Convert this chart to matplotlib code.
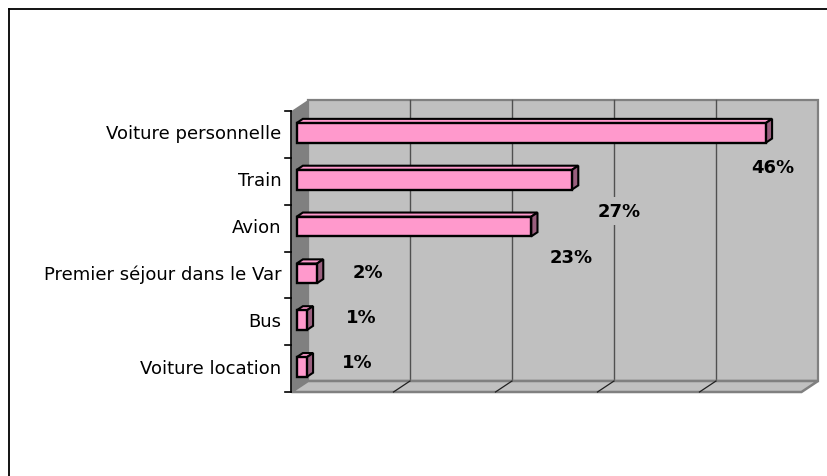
import matplotlib
matplotlib.use("Agg")
import matplotlib.pyplot as plt
from matplotlib.patches import Polygon, Rectangle
from matplotlib.lines import Line2D

# ---- data ----
categories = ["Voiture personnelle", "Train", "Avion",
              "Premier séjour dans le Var", "Bus", "Voiture location"]
values = [46, 27, 23, 2, 1, 1]
value_labels = [f"{v}%" for v in values]
grid_values = [10, 20, 30, 40]
x_max = 50

# ---- layout (label offsets, data units) ----
label_dx = [-0.4, 3.5, 2.8, 3.9, 4.2, 3.8]
label_dy = [0.93, 0.87, 0.85, 0.18, 0.14, 0.10]

W, H = 828, 477
fig = plt.figure(figsize=(W / 100, H / 100), dpi=100)
fig.patch.set_facecolor("white")

ax = fig.add_axes([308 / W, (H - 382) / H, 510 / W, 281 / H])
ax.set_xlim(0, x_max)
ax.set_ylim(len(categories), 0)
ax.set_axis_off()

n = len(categories)
DX = -1.62   # depth offset (x, data units) from back to front
DY = 0.235   # depth offset (y, category units) from back to front
WALL = "#C0C0C0"
DARK = "#808080"
GRID = "#505050"

# back wall
ax.add_patch(Rectangle((0, 0), x_max, n, facecolor=WALL, edgecolor=DARK,
                       lw=1.6, zorder=1, clip_on=False))
for g in grid_values:
    ax.add_line(Line2D([g, g], [0, n], color=GRID, lw=1.0, zorder=2, clip_on=False))

# floor
ax.add_patch(Polygon([(0, n), (x_max, n), (x_max + DX, n + DY), (DX, n + DY)],
                     closed=True, facecolor=WALL, edgecolor=DARK, lw=1.8,
                     zorder=2, clip_on=False))
for g in grid_values:
    ax.add_line(Line2D([g, g + DX], [n, n + DY], color="#202020", lw=0.9,
                       zorder=3, clip_on=False))

# left wall
ax.add_patch(Polygon([(0, 0), (0, n), (DX, n + DY), (DX, DY)], closed=True,
                     facecolor=DARK, edgecolor="none", zorder=3, clip_on=False))
ax.add_line(Line2D([DX, DX], [DY, n + DY], color="black", lw=1.2, zorder=4,
                   clip_on=False))
for k in range(n + 1):
    ax.add_line(Line2D([DX - 0.6, DX], [k + DY, k + DY], color="black", lw=1.2,
                       zorder=4, clip_on=False))

# bars
d0, d1 = 0.31, 0.69
hh = 0.21
yshift = 0.04
FRONT = "#FF99CC"
TOP = "#FF99CC"
SIDE = "#9A5F7E"
ys = [i + 0.5 + yshift + d1 * DY for i in range(n)]
ax.barh(ys, values, height=2 * hh, left=d1 * DX, color=FRONT, edgecolor="black",
        linewidth=1.7, zorder=6, clip_on=False)
for i, v in enumerate(values):
    yc = i + 0.5 + yshift
    x0f, x1f = d1 * DX, v + d1 * DX
    x0b, x1b = d0 * DX, v + d0 * DX
    ytf, ybf = yc - hh + d1 * DY, yc + hh + d1 * DY
    ytb, ybb = yc - hh + d0 * DY, yc + hh + d0 * DY
    ax.add_patch(Polygon([(x0f, ytf), (x1f, ytf), (x1b, ytb), (x0b, ytb)],
                         closed=True, facecolor=TOP, edgecolor="black", lw=1.5,
                         zorder=5, clip_on=False))
    ax.add_patch(Polygon([(x1f, ytf), (x1b, ytb), (x1b, ybb), (x1f, ybf)],
                         closed=True, facecolor=SIDE, edgecolor="black", lw=1.5,
                         zorder=5, clip_on=False))

# category labels
for i, c in enumerate(categories):
    ax.text(DX - 1.0, i + 0.5 + DY - 0.02, c, ha="right", va="center",
            fontsize=13, family="DejaVu Sans", color="black", clip_on=False)

# value labels
for i, (v, t) in enumerate(zip(values, value_labels)):
    ax.text(v + label_dx[i], i + 0.5 + label_dy[i], t, ha="center", va="center",
            fontsize=13, fontweight="bold", family="DejaVu Sans", color="black",
            zorder=8, clip_on=False,
            bbox=dict(boxstyle="square,pad=0.3", facecolor=WALL, edgecolor="none"))

# outer chart border (clipped at right/bottom)
fig.add_artist(Line2D([9 / W, 1.0], [1 - 10 / H, 1 - 10 / H], color="black",
                      lw=1.3, transform=fig.transFigure))
fig.add_artist(Line2D([9 / W, 9 / W], [1 - 10 / H, 0.0], color="black",
                      lw=1.3, transform=fig.transFigure))

fig.savefig("out.png", dpi=100)
